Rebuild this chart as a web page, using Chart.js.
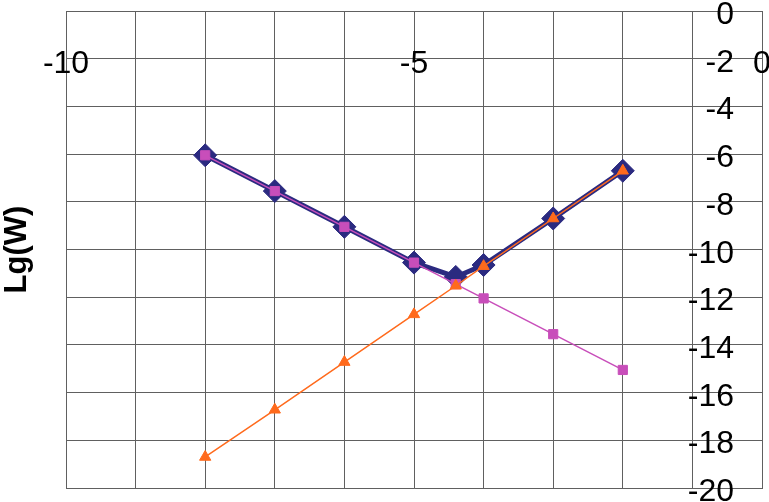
<!DOCTYPE html>
<html><head><meta charset="utf-8">
<script src="https://cdn.jsdelivr.net/npm/chart.js@4"></script>
<style>html,body{margin:0;padding:0;background:#fff;overflow:hidden;}#wrap{width:769px;height:502px;}</style>
</head><body><div id="wrap"><canvas id="c" width="769" height="502"></canvas></div>
<script>
const xValues = [-8, -7, -6, -5, -4.4, -4, -3, -2];
const sumSeries = [-6.05, -7.55, -9.05, -10.55, -11.15, -10.65, -8.7, -6.7];
const squareSeries = [-6.05, -7.55, -9.05, -10.55, -11.45, -12.05, -13.55, -15.05];
const triangleSeries = [-18.7, -16.72, -14.72, -12.72, -11.52, -10.7, -8.7, -6.7];
const xTickLabels = [-10, -5, 0];
const yTickLabels = [0, -2, -4, -6, -8, -10, -12, -14, -16, -18, -20];
const yTitle = 'Lg(W)';

const NAVY = '#2B2A80';
const MAGENTA = '#C84EBA';
const ORANGE = '#FF6A1C';
const GRID = '#606060';

function pts(ys) { return xValues.map((x, i) => ({ x: x, y: ys[i] })); }

const labelPlugin = {
  id: 'labels',
  afterDraw(chart) {
    const ctx = chart.ctx;
    const xs = chart.scales.x, ys = chart.scales.y;
    ctx.save();
    ctx.fillStyle = '#000';
    ctx.font = '32px "Liberation Sans", Arial, sans-serif';
    ctx.textBaseline = 'alphabetic';
    ctx.textAlign = 'center';
    const xLabY = ys.getPixelForValue(-2) + 14;
    xTickLabels.forEach(v => ctx.fillText(String(v), xs.getPixelForValue(v), xLabY));
    ctx.textAlign = 'right';
    const yLabX = xs.right - 28;
    yTickLabels.forEach(v => ctx.fillText(String(v), yLabX, ys.getPixelForValue(v) + 13));
    ctx.translate(26, (ys.top + ys.bottom) / 2);
    ctx.rotate(-Math.PI / 2);
    ctx.textAlign = 'center';
    ctx.font = 'bold 31px "Liberation Sans", Arial, sans-serif';
    ctx.fillText(yTitle, 0, 0);
    ctx.restore();
  }
};

new Chart(document.getElementById('c'), {
  type: 'scatter',
  data: {
    datasets: [
      { data: pts(triangleSeries), showLine: true, borderColor: ORANGE, backgroundColor: ORANGE,
        borderWidth: 1.5, pointStyle: 'triangle', pointRadius: 6.5, pointBorderWidth: 1,
        pointBorderColor: ORANGE, pointBackgroundColor: ORANGE },
      { data: pts(squareSeries), showLine: true, borderColor: MAGENTA, backgroundColor: MAGENTA,
        borderWidth: 1.5, pointStyle: 'rect', pointRadius: 6.5, pointBorderWidth: 1,
        pointBorderColor: MAGENTA, pointBackgroundColor: MAGENTA },
      { data: pts(sumSeries), showLine: true, borderColor: NAVY, backgroundColor: NAVY,
        borderWidth: 5, pointStyle: 'rectRot', pointRadius: 11.5, pointBorderWidth: 1,
        pointBorderColor: NAVY, pointBackgroundColor: NAVY }
    ]
  },
  options: {
    responsive: false,
    devicePixelRatio: 1,
    animation: false,
    layout: { autoPadding: false, padding: { left: 66, right: 7, top: 11, bottom: 14 } },
    plugins: { legend: { display: false }, tooltip: { enabled: false } },
    elements: { line: { tension: 0 } },
    scales: {
      x: {
        type: 'linear', min: -10, max: 0,
        ticks: { stepSize: 1, display: false },
        grid: { color: GRID, lineWidth: 1, drawTicks: false },
        border: { display: true, color: GRID }
      },
      y: {
        type: 'linear', min: -20, max: 0,
        ticks: { stepSize: 2, display: false },
        grid: { color: GRID, lineWidth: 1, drawTicks: false },
        border: { display: true, color: GRID }
      }
    }
  },
  plugins: [labelPlugin]
});
</script>
</body></html>
